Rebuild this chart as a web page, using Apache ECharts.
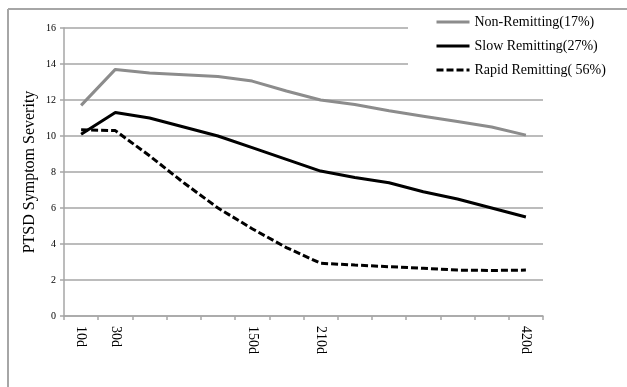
<!DOCTYPE html>
<html>
<head>
<meta charset="utf-8">
<script src="https://cdn.jsdelivr.net/npm/echarts@6/dist/echarts.min.js"></script>
<style>html,body{margin:0;padding:0;background:#fff}#c{width:627px;height:387px}</style>
</head>
<body>
<div id="c"></div>
<script>
var categories = ['10d','30d','','','','150d','','210d','','','','','','420d'];
var nonRemitting = [11.7,13.7,13.5,13.4,13.3,13.05,12.5,12.0,11.75,11.4,11.1,10.8,10.5,10.05];
var slowRemitting = [10.1,11.3,11.0,10.5,10.0,9.35,8.7,8.05,7.7,7.4,6.9,6.5,6.0,5.5];
var rapidRemitting = [10.35,10.3,8.9,7.4,6.0,4.85,3.8,2.93,2.83,2.74,2.65,2.55,2.53,2.55];
var seriesNames = ['Non-Remitting(17%)','Slow Remitting(27%)','Rapid Remitting( 56%)'];
var yTicks = {min:0, max:16, interval:2};
var yTitle = 'PTSD Symptom Severity';

var chart = echarts.init(document.getElementById('c'), null, {renderer:'canvas'});
var serif = '"Liberation Serif", "Times New Roman", serif';
chart.setOption({
  animation:false,
  backgroundColor:'#fff',
  grid:{left:64, top:28, right:84, bottom:71, containLabel:false},
  graphic:[
    {type:'line', shape:{x1:8,y1:9,x2:8,y2:387}, style:{stroke:'#a6a6a6', lineWidth:2}, z:0},
    {type:'line', shape:{x1:8,y1:9,x2:627,y2:9}, style:{stroke:'#a6a6a6', lineWidth:2}, z:0},
    {type:'rect', shape:{x:408,y:11,width:219,height:78}, style:{fill:'#fff'}, z:3}
  ],
  legend:{
    orient:'vertical', left:430, top:10, itemWidth:33, itemHeight:14, itemGap:10,
    itemStyle:{opacity:0},
    lineStyle:{width:3},
    textStyle:{fontFamily:serif, fontSize:14, color:'#000'},
    data:seriesNames,
    z:5
  },
  xAxis:{
    type:'category', data:categories, boundaryGap:true,
    axisLine:{lineStyle:{color:'#a6a6a6', width:1.5}},
    axisTick:{show:true, length:4, interval:0, lineStyle:{color:'#a6a6a6', width:1.5}},
    axisLabel:{interval:0, rotate:-90, margin:10, fontFamily:serif, fontSize:14, color:'#000'},
    splitLine:{show:false}
  },
  yAxis:{
    type:'value', min:yTicks.min, max:yTicks.max, interval:yTicks.interval,
    name:yTitle, nameLocation:'middle', nameGap:26, nameRotate:90, nameMoveOverlap:false,
    nameTextStyle:{fontFamily:serif, fontSize:16, color:'#000'},
    axisLine:{show:true, lineStyle:{color:'#a6a6a6', width:1.5}},
    axisTick:{show:true, length:4, lineStyle:{color:'#a6a6a6', width:1.5}},
    axisLabel:{fontFamily:serif, fontSize:10, color:'#000', margin:8},
    splitLine:{show:true, lineStyle:{color:'#a6a6a6', width:1.5}}
  },
  series:[
    {name:seriesNames[0], type:'line', data:nonRemitting, showSymbol:false, symbol:'none',
     lineStyle:{color:'#8c8c8c', width:3}, itemStyle:{color:'#8c8c8c'}},
    {name:seriesNames[1], type:'line', data:slowRemitting, showSymbol:false, symbol:'none',
     lineStyle:{color:'#000', width:3}, itemStyle:{color:'#000'}},
    {name:seriesNames[2], type:'line', data:rapidRemitting, showSymbol:false, symbol:'none',
     lineStyle:{color:'#000', width:3, type:[7,3]}, itemStyle:{color:'#000'}}
  ]
});
</script>
</body>
</html>
